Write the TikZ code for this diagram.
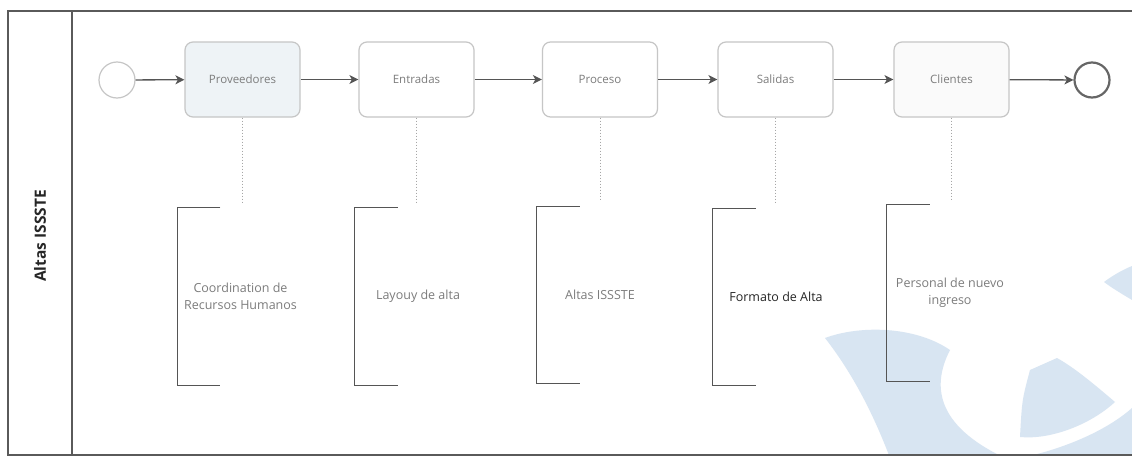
\documentclass[tikz,border=0pt]{standalone}
\usepackage{fontspec}
\setmainfont{Open Sans}
\usetikzlibrary{arrows.meta}
\definecolor{frameC}{HTML}{5A5A5A}
\definecolor{boxC}{HTML}{C6C6C6}
\definecolor{flowC}{HTML}{555555}
\definecolor{labC}{HTML}{7C7C7C}
\definecolor{provC}{HTML}{EEF3F6}
\definecolor{logoC}{RGB}{216,229,242}

\begin{document}
\begin{tikzpicture}[x=1pt,y=-1pt,
  task/.style={draw=boxC,line width=1.2pt,rounded corners=8pt,minimum width=115pt,
    minimum height=75pt,inner sep=0pt,font=\fontsize{11.5}{14}\selectfont,text=labC,fill=white},
  flow/.style={draw=flowC,line width=1.3pt,-{Stealth[length=9pt,width=9pt,inset=2.5pt]}},
  assoc/.style={draw=gray!70,line width=1pt,dotted,shorten >=5pt},
  note/.style={minimum width=126pt,minimum height=177pt,inner sep=0pt,align=center,
    text=labC,font=\fontsize{12.5}{17}\selectfont},
  bracket/.style={draw=flowC,line width=1.3pt}
]
\useasboundingbox (0,0) rectangle (1132,458);
\fill[white] (0,0) rectangle (1132,458);

% faint emblem in the lower right of the lane
\begin{scope}
  \clip (72,11) rectangle (1132,455);
  \fill[logoC] (825,338) .. controls (860,325) and (915,326) .. (950,350)
    .. controls (932,385) and (935,425) .. (1005,458) -- (890,458)
    .. controls (872,410) and (850,370) .. (825,338) -- cycle;
  \fill[logoC] (1057,358) -- (1030,370) .. controls (1022,400) .. (1020,437)
    .. controls (1050,440) and (1090,425) .. (1115,402)
    .. controls (1095,385) and (1075,368) .. (1057,358) -- cycle;
  \fill[logoC] (1020,458) .. controls (1060,450) and (1105,432) .. (1132,408) -- (1132,458) -- cycle;
  \fill[logoC] (1104,282) .. controls (1112,276) and (1122,270) .. (1132,266) -- (1132,300)
    .. controls (1122,294) and (1112,288) .. (1104,282) -- cycle;
\end{scope}

% pool frame and lane header
\draw[frameC,line width=1.2pt] (1140,11) -- (8,11) -- (8,455) -- (1140,455);
\draw[frameC,line width=1.2pt] (72,11) -- (72,455);
\node[rotate=90,font=\bfseries\fontsize{15.5}{18}\selectfont,text=black!85] (lane) at (40,236) {Altas ISSSTE};

% text annotations
\node[note] (nprov) at (240.5,296.5) {Coordination de\\Recursos Humanos};
\node[note] (nentr) at (418,296.5) {Layouy de alta};
\node[note] (nproc) at (600,295) {Altas ISSSTE};
\node[note,text=black!85] (nsal) at (776,297) {Formato de Alta};
\node[note] (ncli) at (950,293) {Personal de nuevo\\ingreso};

\foreach \n in {nprov,nentr,nproc,nsal,ncli}{
  \draw[bracket] ([xshift=43pt]\n.north west) -- (\n.north west) -- (\n.south west) -- ([xshift=43pt]\n.south west);
}

% events and tasks
\node[circle,draw=boxC,line width=1.2pt,minimum size=36pt,inner sep=0pt] (start) at (117,80) {};
\node[task,fill=provC] (prov) at (242.5,79.5) {Proveedores};
\node[task] (entr) at (416.5,79.5) {Entradas};
\node[task] (proc) at (600,79.5) {Proceso};
\node[task] (sal) at (775.5,79.5) {Salidas};
\node[task,fill=gray!4] (cli) at (951.5,79.5) {Clientes};
\node[circle,draw=flowC!90,line width=2.2pt,minimum size=35pt,inner sep=0pt] (end) at (1092,80) {};

% sequence flows
\draw[flow] (start) -- (prov);
\draw[flow] (prov) -- (entr);
\draw[flow] (entr) -- (proc);
\draw[flow] (proc) -- (sal);
\draw[flow] (sal) -- (cli);
\draw[flow] (cli) -- (end);

% associations
\draw[assoc] (prov.south) -- (prov.south |- nprov.north);
\draw[assoc] (entr.south) -- (entr.south |- nentr.north);
\draw[assoc] (proc.south) -- (proc.south |- nproc.north);
\draw[assoc] (sal.south) -- (sal.south |- nsal.north);
\draw[assoc] (cli.south) -- (cli.south |- ncli.north);
\end{tikzpicture}
\end{document}
